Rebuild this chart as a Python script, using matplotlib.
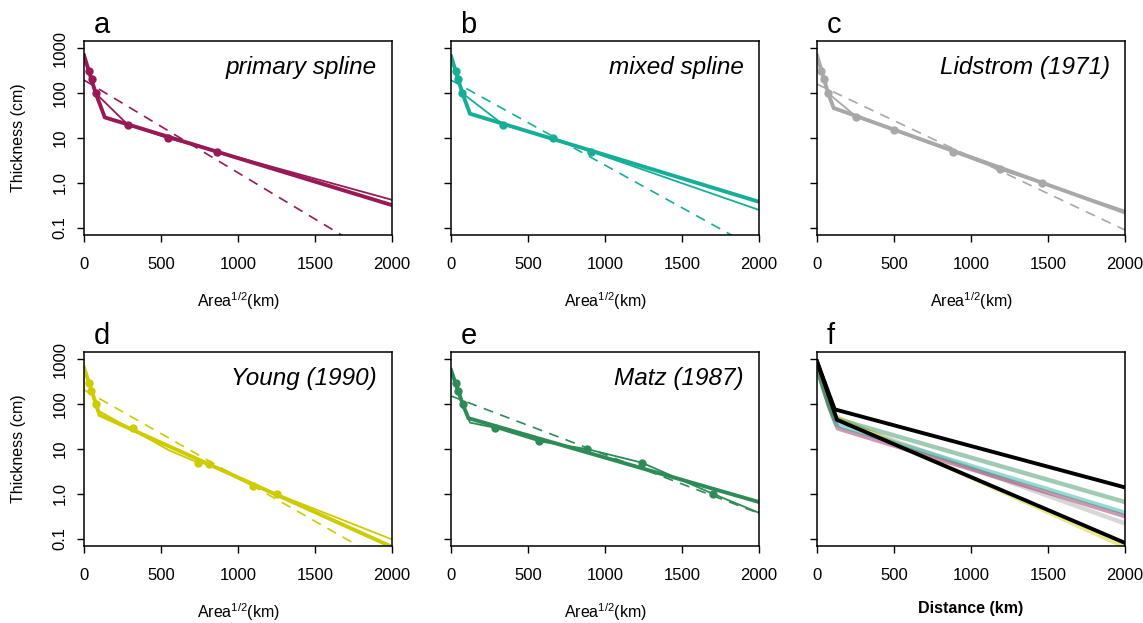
import matplotlib
matplotlib.use("Agg")
import matplotlib.pyplot as plt
import numpy as np

plt.rcParams['font.family'] = ['Liberation Sans', 'DejaVu Sans']
plt.rcParams['mathtext.default'] = 'regular'

# panel names and colours
letters = ['a', 'b', 'c', 'd', 'e']
titles = ['primary spline', 'mixed spline', 'Lidstrom (1971)', 'Young (1990)', 'Matz (1987)']
colors = ['#971A55', '#16AE96', '#A8A8A8', '#CCCC00', '#2E8B57']

# observed points (Area^1/2 km, thickness cm)
pts_x = [[34, 50, 76, 284, 545, 864],
         [30, 43, 74, 340, 660, 909],
         [24, 43, 72, 256, 498, 880, 1187, 1458],
         [30, 46, 78, 317, 740, 810, 1100, 1250],
         [30, 48, 76, 286, 571, 885, 1238, 1703]]
pts_y = [[316, 205, 100, 20, 10, 5],
         [310, 205, 100, 20, 10, 5],
         [320, 205, 100, 30, 15, 5, 2, 1.0],
         [300, 200, 100, 30, 5, 4.6, 1.5, 1.0],
         [300, 200, 100, 30, 15, 10, 5, 1.0]]

# thick fitted line
thick_x = [[0, 76, 135, 2000],
           [0, 74, 123, 2000],
           [0, 72, 108, 2000],
           [0, 78, 100, 2000],
           [0, 76, 113, 2000]]
thick_y = [[700, 100, 29, 0.32],
           [675, 100, 35, 0.38],
           [700, 100, 47, 0.22],
           [660, 100, 58, 0.066],
           [580, 100, 49, 0.66]]

# thin line
thin_x = [[0, 34, 50, 76, 284, 545, 864, 2000],
          [0, 30, 43, 74, 290, 340, 660, 909, 2000],
          [0, 24, 43, 72, 256, 498, 880, 1187, 1458, 2000],
          [0, 30, 46, 78, 100, 550, 740, 810, 1100, 1250, 2000],
          [0, 30, 48, 76, 123, 286, 571, 885, 1238, 1703, 2000]]
thin_y = [[700, 316, 205, 100, 20, 10, 5, 0.42],
          [675, 310, 205, 100, 27, 20, 10, 5, 0.25],
          [700, 320, 205, 100, 30, 15, 5, 2, 1.0, 0.24],
          [660, 300, 200, 100, 70, 9.5, 5, 4.6, 1.5, 1.0, 0.097],
          [580, 300, 200, 100, 39, 30, 15, 10, 5, 1.0, 0.38]]

# dashed log-linear fit
dash_x = [0, 2000]
dash_y = [[197, 0.0145],
          [197, 0.0315],
          [160, 0.089],
          [210, 0.026],
          [153, 0.37]]

# panel f envelope lines
env_x = [[0, 115, 2000], [0, 130, 2000]]
env_y = [[900, 77, 1.4], [900, 45, 0.081]]

fig = plt.figure(figsize=(11.43, 6.23), dpi=100)
lefts = [0.0735, 0.3946, 0.7148]
bottoms = [0.6228, 0.1236]
w, h = 0.2695, 0.3117

yticks = [0.1, 1, 10, 100, 1000]
ylabels = ['0.1', '1.0', '10', '100', '1000']

axes = []
for k in range(6):
    r, c = divmod(k, 3)
    ax = fig.add_axes([lefts[c], bottoms[r], w, h])
    ax.set_yscale('log')
    ax.set_xlim(0, 2000)
    ax.set_ylim(10 ** -1.16, 10 ** 3.17)
    ax.set_xticks([0, 500, 1000, 1500, 2000])
    ax.set_yticks(yticks)
    ax.minorticks_off()
    if c == 0:
        ax.set_yticklabels(ylabels, rotation=90, va='center')
        ax.set_ylabel('Thickness (cm)', fontsize=11.5, labelpad=19)
    else:
        ax.set_yticklabels([])
    ax.tick_params(length=5, width=1, labelsize=12)
    ax.tick_params(axis='x', pad=11)
    ax.tick_params(axis='y', pad=7)
    for s in ax.spines.values():
        s.set_linewidth(1.1)
    axes.append(ax)

for i in range(5):
    ax = axes[i]
    col = colors[i]
    ax.plot(dash_x, dash_y[i], color=col, lw=1.2, dashes=(6, 4.5))
    ax.plot(thin_x[i], thin_y[i], color=col, lw=1.3)
    ax.plot(thick_x[i], thick_y[i], color=col, lw=2.8, solid_joinstyle='miter')
    ax.plot(pts_x[i], pts_y[i], 'o', color=col, ms=5)
    ax.text(0.95, 0.86, titles[i], transform=ax.transAxes, ha='right',
            va='center', style='italic', fontsize=17.5)
    ax.text(0.03, 1.01, letters[i], transform=ax.transAxes, fontsize=21,
            va='bottom')
    ax.set_xlabel(r'Area$^{1/2}$(km)', fontsize=11.5, labelpad=13)

axf = axes[5]
for i in [2, 3, 0, 1, 4]:
    axf.plot(thick_x[i], thick_y[i], color=colors[i], lw=3.2, alpha=0.45)
for ex, ey in zip(env_x, env_y):
    axf.plot(ex, ey, color='black', lw=2.8)
axf.text(0.03, 1.01, 'f', transform=axf.transAxes, fontsize=21, va='bottom')
axf.set_xlabel('Distance (km)', fontsize=11.5, fontweight='bold', labelpad=13)

fig.savefig('out.png', dpi=100)
